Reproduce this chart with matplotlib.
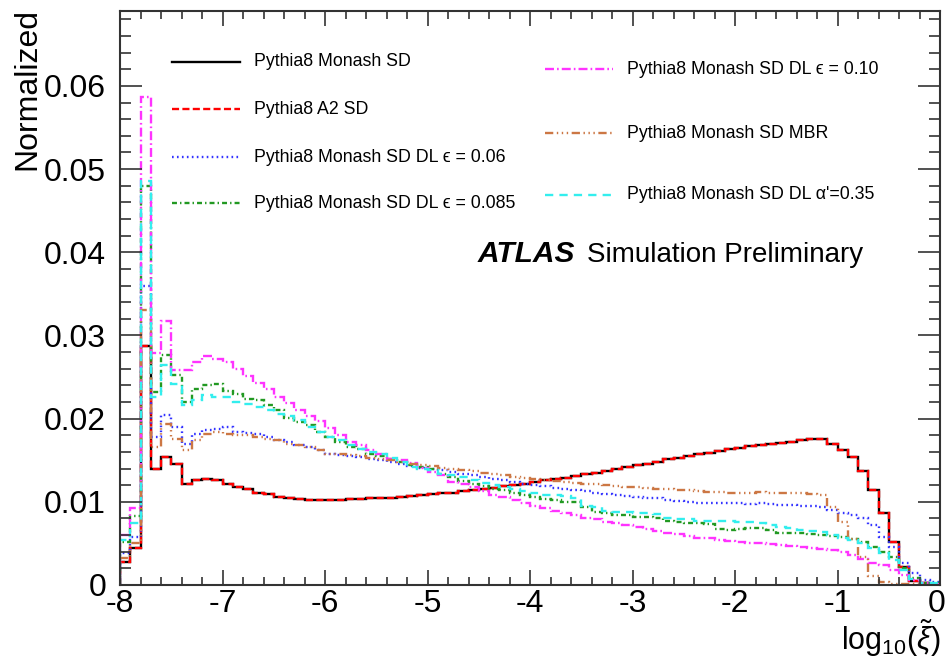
import numpy as np
import matplotlib
matplotlib.use('Agg')
import matplotlib.pyplot as plt
from matplotlib.ticker import MultipleLocator, FuncFormatter
from matplotlib.lines import Line2D

plt.rcParams['font.family'] = ['Liberation Sans', 'DejaVu Sans']
plt.rcParams['mathtext.fontset'] = 'custom'
plt.rcParams['mathtext.rm'] = 'Liberation Sans'
plt.rcParams['mathtext.it'] = 'Liberation Sans:italic'

# 80 bins of width 0.1 in log10(xi) from -8 to 0
edges = np.linspace(-8.0, 0.0, 81)

monash_sd = [
    0.0028, 0.0044, 0.0287, 0.0140, 0.0154, 0.0145, 0.0122, 0.0126, 0.0127, 0.0126,
    0.0122, 0.0118, 0.0115, 0.0111, 0.0109, 0.0106, 0.0104, 0.0103, 0.0102, 0.0102,
    0.0102, 0.0102, 0.0103, 0.0103, 0.0104, 0.0104, 0.0105, 0.0106, 0.0107, 0.0108,
    0.0109, 0.0110, 0.0111, 0.0113, 0.0114, 0.0116, 0.0117, 0.0119, 0.0120, 0.0122,
    0.0124, 0.0126, 0.0127, 0.0129, 0.0131, 0.0133, 0.0135, 0.0137, 0.0140, 0.0142,
    0.0144, 0.0146, 0.0148, 0.0151, 0.0153, 0.0155, 0.0157, 0.0159, 0.0161, 0.0163,
    0.0165, 0.0167, 0.0168, 0.0170, 0.0171, 0.0172, 0.0174, 0.0176, 0.0175, 0.0170,
    0.0162, 0.0154, 0.0137, 0.0114, 0.0087, 0.0052, 0.0022, 0.0005, 0.0003, 0.0001]

a2_sd = [
    0.0028, 0.0044, 0.0287, 0.0140, 0.0154, 0.0145, 0.0122, 0.0126, 0.0127, 0.0126,
    0.0122, 0.0118, 0.0115, 0.0111, 0.0109, 0.0106, 0.0104, 0.0103, 0.0102, 0.0102,
    0.0102, 0.0102, 0.0103, 0.0103, 0.0104, 0.0104, 0.0105, 0.0106, 0.0107, 0.0108,
    0.0109, 0.0110, 0.0111, 0.0113, 0.0114, 0.0116, 0.0117, 0.0119, 0.0120, 0.0122,
    0.0124, 0.0126, 0.0127, 0.0129, 0.0131, 0.0133, 0.0135, 0.0137, 0.0140, 0.0142,
    0.0144, 0.0146, 0.0148, 0.0151, 0.0153, 0.0155, 0.0157, 0.0159, 0.0161, 0.0163,
    0.0165, 0.0167, 0.0168, 0.0170, 0.0171, 0.0172, 0.0174, 0.0176, 0.0175, 0.0170,
    0.0162, 0.0154, 0.0137, 0.0114, 0.0087, 0.0052, 0.0022, 0.0005, 0.0003, 0.0001]

dl_eps006 = [
    0.0038, 0.0058, 0.0360, 0.0178, 0.0204, 0.0190, 0.0170, 0.0182, 0.0186, 0.0188,
    0.0190, 0.0184, 0.0183, 0.0182, 0.0178, 0.0174, 0.0172, 0.0168, 0.0166, 0.0162,
    0.0158, 0.0156, 0.0155, 0.0154, 0.0152, 0.0150, 0.0148, 0.0146, 0.0143, 0.0141,
    0.0140, 0.0138, 0.0136, 0.0134, 0.0132, 0.0130, 0.0128, 0.0126, 0.0124, 0.0122,
    0.0120, 0.0119, 0.0117, 0.0115, 0.0114, 0.0113, 0.0111, 0.0109, 0.0108, 0.0107,
    0.0106, 0.0105, 0.0104, 0.0102, 0.0101, 0.0100, 0.0099, 0.0099, 0.0098, 0.0098,
    0.0098, 0.0097, 0.0098, 0.0097, 0.0096, 0.0096, 0.0095, 0.0095, 0.0094, 0.0090,
    0.0086, 0.0084, 0.0080, 0.0072, 0.0058, 0.0046, 0.0027, 0.0014, 0.0006, 0.0004]

dl_eps0085 = [
    0.0052, 0.0083, 0.0480, 0.0232, 0.0276, 0.0252, 0.0220, 0.0236, 0.0240, 0.0242,
    0.0233, 0.0230, 0.0224, 0.0222, 0.0216, 0.0210, 0.0201, 0.0196, 0.0192, 0.0184,
    0.0178, 0.0172, 0.0166, 0.0163, 0.0158, 0.0155, 0.0151, 0.0148, 0.0144, 0.0142,
    0.0139, 0.0134, 0.0130, 0.0125, 0.0122, 0.0119, 0.0116, 0.0114, 0.0111, 0.0108,
    0.0106, 0.0103, 0.0102, 0.0100, 0.0100, 0.0094, 0.0088, 0.0087, 0.0084, 0.0084,
    0.0082, 0.0082, 0.0081, 0.0077, 0.0076, 0.0075, 0.0074, 0.0073, 0.0067, 0.0066,
    0.0067, 0.0068, 0.0068, 0.0066, 0.0063, 0.0062, 0.0062, 0.0061, 0.0060, 0.0059,
    0.0058, 0.0055, 0.0052, 0.0046, 0.0040, 0.0034, 0.0020, 0.0008, 0.0003, 0.0002]

dl_eps010 = [
    0.0060, 0.0093, 0.0587, 0.0279, 0.0317, 0.0258, 0.0258, 0.0268, 0.0275, 0.0272,
    0.0268, 0.0260, 0.0251, 0.0243, 0.0236, 0.0226, 0.0219, 0.0210, 0.0203, 0.0197,
    0.0189, 0.0180, 0.0172, 0.0168, 0.0162, 0.0157, 0.0152, 0.0150, 0.0147, 0.0141,
    0.0136, 0.0132, 0.0124, 0.0121, 0.0118, 0.0113, 0.0108, 0.0106, 0.0102, 0.0099,
    0.0095, 0.0093, 0.0089, 0.0086, 0.0084, 0.0081, 0.0079, 0.0076, 0.0074, 0.0072,
    0.0070, 0.0067, 0.0065, 0.0063, 0.0061, 0.0059, 0.0057, 0.0056, 0.0054, 0.0053,
    0.0052, 0.0051, 0.0050, 0.0049, 0.0048, 0.0047, 0.0046, 0.0044, 0.0043, 0.0042,
    0.0040, 0.0036, 0.0031, 0.0027, 0.0024, 0.0018, 0.0012, 0.0006, 0.0002, 0.0001]

mbr = [
    0.0032, 0.0050, 0.0330, 0.0166, 0.0193, 0.0176, 0.0162, 0.0174, 0.0182, 0.0184,
    0.0182, 0.0180, 0.0180, 0.0178, 0.0176, 0.0174, 0.0170, 0.0168, 0.0166, 0.0162,
    0.0158, 0.0157, 0.0156, 0.0155, 0.0153, 0.0152, 0.0150, 0.0148, 0.0146, 0.0144,
    0.0143, 0.0141, 0.0140, 0.0138, 0.0137, 0.0135, 0.0134, 0.0132, 0.0130, 0.0129,
    0.0127, 0.0126, 0.0125, 0.0124, 0.0123, 0.0122, 0.0121, 0.0120, 0.0119, 0.0118,
    0.0118, 0.0117, 0.0116, 0.0115, 0.0114, 0.0114, 0.0113, 0.0112, 0.0112, 0.0111,
    0.0111, 0.0111, 0.0112, 0.0111, 0.0111, 0.0111, 0.0110, 0.0109, 0.0108, 0.0094,
    0.0076, 0.0055, 0.0034, 0.0011, 0.0004, 0.0001, 0.0001, 0.0001, 0.0000, 0.0000]

dl_alpha035 = [
    0.0054, 0.0075, 0.0486, 0.0226, 0.0265, 0.0242, 0.0216, 0.0222, 0.0228, 0.0226,
    0.0226, 0.0220, 0.0218, 0.0214, 0.0210, 0.0206, 0.0203, 0.0198, 0.0190, 0.0184,
    0.0178, 0.0174, 0.0168, 0.0164, 0.0160, 0.0157, 0.0153, 0.0148, 0.0142, 0.0140,
    0.0138, 0.0134, 0.0132, 0.0130, 0.0126, 0.0123, 0.0120, 0.0118, 0.0116, 0.0113,
    0.0110, 0.0108, 0.0108, 0.0107, 0.0104, 0.0095, 0.0094, 0.0089, 0.0088, 0.0088,
    0.0086, 0.0086, 0.0085, 0.0080, 0.0079, 0.0079, 0.0077, 0.0077, 0.0077, 0.0077,
    0.0076, 0.0076, 0.0075, 0.0072, 0.0070, 0.0068, 0.0066, 0.0065, 0.0064, 0.0060,
    0.0056, 0.0054, 0.0050, 0.0044, 0.0038, 0.0030, 0.0018, 0.0007, 0.0003, 0.0003]

# (values, color, dash pattern, legend label, legend position in pixels)
samples = [
    (monash_sd, 'black', '-', 'Pythia8 Monash SD', (172, 62)),
    (a2_sd, '#ff0000', (0, (3.0, 1.4)), 'Pythia8 A2 SD', (172, 109)),
    (dl_eps006, '#3333ff', (0, (0.7, 1.4)), 'Pythia8 Monash SD DL \u03f5 = 0.06', (172, 157)),
    (dl_eps0085, '#229922', (0, (2.1, 1.3, 0.6, 1.3)), 'Pythia8 Monash SD DL \u03f5 = 0.085', (172, 203)),
    (dl_eps010, '#ff33ff', (0, (3.8, 1.3, 0.7, 1.3)), 'Pythia8 Monash SD DL \u03f5 = 0.10', (545, 69)),
    (mbr, '#cc7744', (0, (3.5, 1.5, 0.6, 1.5, 0.6, 1.5, 0.6, 1.5)), 'Pythia8 Monash SD MBR', (545, 133)),
    (dl_alpha035, '#33eeee', (0, (3.5, 2.6)), "Pythia8 Monash SD DL \u03b1'=0.35", (545, 195)),
]

W, H = 947, 669
fig = plt.figure(figsize=(W / 100, H / 100), dpi=100)
ax = fig.add_axes([120 / W, 1 - 585 / H, 820 / W, 574 / H])

lw = 1.7
for vals, col, ls, lab, pos in samples:
    ax.stairs(vals, edges, color=col, linestyle=ls, linewidth=lw)

ax.set_xlim(-8, 0)
ax.set_ylim(0, 0.069)

ax.xaxis.set_major_locator(MultipleLocator(1))
ax.xaxis.set_minor_locator(MultipleLocator(0.2))
ax.yaxis.set_major_locator(MultipleLocator(0.01))
ax.yaxis.set_minor_locator(MultipleLocator(0.002))
ax.yaxis.set_major_formatter(FuncFormatter(lambda v, p: '0' if abs(v) < 1e-9 else '%.2f' % v))
# the "0" at the right end is drawn separately so it stays on the canvas
ax.xaxis.set_major_formatter(FuncFormatter(lambda v, p: '' if round(v) == 0 else '%d' % round(v)))

ax.tick_params(which='both', direction='in', top=True, right=True, width=1.2, colors='#333333')
ax.tick_params(axis='x', which='major', length=11, labelsize=23, pad=3, labelcolor='black')
ax.tick_params(axis='x', which='minor', length=6)
ax.tick_params(axis='y', which='major', length=16, labelsize=23, pad=10, labelcolor='black')
ax.tick_params(axis='y', which='minor', length=8)
for sp in ax.spines.values():
    sp.set_linewidth(1.5)
    sp.set_color('#333333')

fig.text(937 / W, 1 - 589 / H, '0', ha='center', va='top', fontsize=23)

fig.text(27 / W, 1 - 8 / H, 'Normalized', rotation=90, ha='center', va='top', fontsize=23)
fig.text(941 / W, 1 - 650 / H, r'log$_{10}$($\tilde{\xi}$)', ha='right', va='baseline', fontsize=22)

# legend drawn by hand in two columns
for vals, col, ls, lab, (px, py) in samples:
    fy = 1 - py / H
    fig.add_artist(Line2D([px / W, (px + 68) / W], [fy, fy], color=col, linestyle=ls,
                          linewidth=lw, transform=fig.transFigure))
    fig.text((px + 82) / W, fy, lab, ha='left', va='center', fontsize=12.8)

fig.text(478 / W, 1 - 262 / H, 'ATLAS', fontsize=21.5, fontweight='bold', fontstyle='italic',
         ha='left', va='baseline')
fig.text(587 / W, 1 - 262 / H, 'Simulation Preliminary', fontsize=20, ha='left', va='baseline')

fig.savefig('out.png', dpi=100)
